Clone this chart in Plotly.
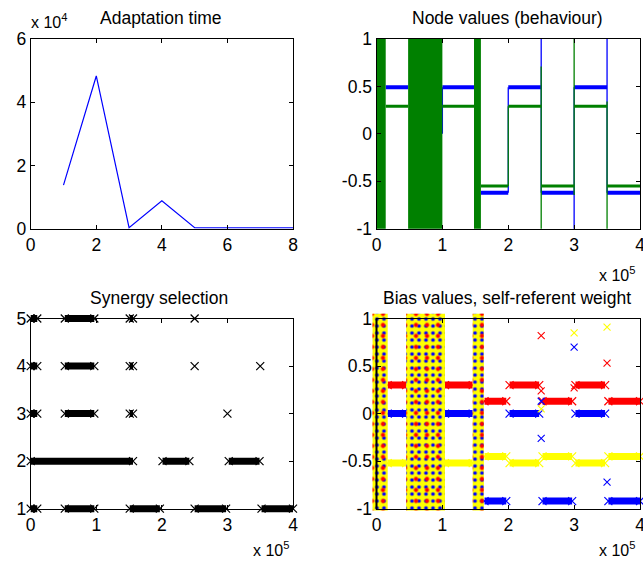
import plotly.graph_objects as go

W, H = 643, 565
FONT = "Liberation Sans, Arial, sans-serif"

# ---------------- data ----------------
# Adaptation time
adapt_x = [1, 2, 3, 4, 5, 6, 7, 8]
adapt_y = [13800, 48300, 300, 8800, 300, 300, 300, 300]

# Node values (behaviour)
node_dense_start = [0, 48000, 148000]
node_dense_end = [14000, 100000, 158500]
node_seg_start = [14000, 100000, 158500, 200000, 250000, 300000, 350000]
node_seg_end = [48000, 148000, 200000, 250000, 300000, 350000, 400000]
node_blue = [0.49, 0.49, -0.62, 0.49, -0.62, 0.49, -0.62]
node_green = [0.29, 0.29, -0.55, 0.29, -0.55, 0.29, -0.55]
node_vert_x = [100000, 200000, 250000, 300000, 350000]
node_blue_vlo = [0.0, -0.62, -0.62, -1.0, -0.62]
node_blue_vhi = [0.49, 0.49, 1.0, 0.49, 1.0]
node_green_vlo = [None, -0.55, -1.0, -0.645, -1.0]
node_green_vhi = [None, 0.29, 0.71, 1.0, 0.34]

# Synergy selection
syn_run_level = [5, 5, 5, 4, 4, 4, 3, 3, 3, 2, 2, 2, 1, 1, 1, 1, 1]
syn_run_start = [0, 52000, 151000, 0, 52000, 151000, 0, 52000, 151000,
                 0, 201000, 302000, 0, 52000, 151000, 250000, 352000]
syn_run_end = [10000, 97000, 156000, 10000, 97000, 156000, 10000, 97000, 156000,
               156000, 242000, 349000, 10000, 97000, 197000, 298000, 400000]
syn_single_x = [250000, 250000, 350000, 300000]
syn_single_y = [5, 4, 4, 3]

# Bias values, self-referent weight
bias_dense_start = [-6000, 45000, 146000]
bias_dense_end = [17000, 104000, 163000]
bias_dense_lo = -1.02
bias_dense_hi = 1.05
bias_seg_start = [17000, 104000, 164000, 202000, 252000, 302000, 352000]
bias_seg_end = [45000, 146000, 197000, 247000, 297000, 347000, 400000]
bias_red = [0.30, 0.30, 0.13, 0.30, 0.13, 0.30, 0.13]
bias_blue = [0.0, 0.0, -0.92, 0.0, -0.92, 0.0, -0.92]
bias_yellow = [-0.52, -0.52, -0.45, -0.52, -0.45, -0.52, -0.45]
bias_pts_red_x = [250000, 350000, 250000, 300000]
bias_pts_red_y = [0.82, 0.53, 0.24, 0.27]
bias_pts_blue_x = [300000, 250000, 250000, 350000]
bias_pts_blue_y = [0.70, 0.13, -0.26, -0.72]
bias_pts_yellow_x = [300000, 350000, 250000]
bias_pts_yellow_y = [0.85, 0.91, 0.05]

# tick labels
tl_xticks = [0, 2, 4, 6, 8]
tl_yticks = [0, 20000, 40000, 60000]
tl_yticktext = ["0", "2", "4", "6"]
e5_ticks = [0, 100000, 200000, 300000, 400000]
e5_ticktext = ["0", "1", "2", "3", "4"]
pm1_ticks = [-1, -0.5, 0, 0.5, 1]
pm1_ticktext = ["-1", "-0.5", "0", "0.5", "1"]
syn_yticks = [1, 2, 3, 4, 5]

BLUE = "rgb(0,0,255)"
GREEN = "rgb(0,128,0)"
RED = "rgb(255,0,0)"
YELLOW = "rgb(255,255,0)"

# ---------------- layout geometry ----------------
boxes = {
    "tl": (30.7, 293.0, 39.0, 228.7),
    "tr": (376.5, 640.0, 39.0, 228.7),
    "bl": (30.7, 293.0, 318.5, 508.7),
    "br": (376.5, 640.0, 318.5, 508.7),
}
ranges = {
    "tl": ([0, 8], [0, 60000]),
    "tr": ([0, 400000], [-1, 1]),
    "bl": ([0, 400000], [1, 5]),
    "br": ([0, 400000], [-1, 1]),
}
ticks = {
    "tl": (tl_xticks, [str(v) for v in tl_xticks], tl_yticks, tl_yticktext),
    "tr": (e5_ticks, e5_ticktext, pm1_ticks, pm1_ticktext),
    "bl": (e5_ticks, e5_ticktext, syn_yticks, [str(v) for v in syn_yticks]),
    "br": (e5_ticks, e5_ticktext, pm1_ticks, pm1_ticktext),
}
panels = ["tl", "tr", "bl", "br"]
PAD = 10

layout = dict(
    template="none",
    width=W, height=H, margin=dict(l=0, r=0, t=0, b=0, pad=0, autoexpand=False),
    paper_bgcolor="white", plot_bgcolor="rgba(0,0,0,0)",
    showlegend=False, font=dict(family=FONT, size=17, color="black"),
)

fig = go.Figure()
axref = {}
for i, p in enumerate(panels):
    L, R, T, B = boxes[p]
    (x0, x1), (y0, y1) = ranges[p]
    pl, pr = min(PAD, L), min(PAD, W - R)
    pt, pb = min(PAD, T), min(PAD, H - B)
    sx = (x1 - x0) / (R - L)
    sy = (y1 - y0) / (B - T)
    di = i + 1
    fi = i + 5
    dxk = "xaxis" if di == 1 else f"xaxis{di}"
    dyk = "yaxis" if di == 1 else f"yaxis{di}"
    layout[dxk] = dict(domain=[(L - pl) / W, (R + pr) / W],
                       range=[x0 - pl * sx, x1 + pr * sx], visible=False,
                       automargin=False,
                       anchor="y" if di == 1 else f"y{di}", fixedrange=True)
    layout[dyk] = dict(domain=[1 - (B + pb) / H, 1 - (T - pt) / H],
                       range=[y0 - pb * sy, y1 + pt * sy], visible=False,
                       automargin=False,
                       anchor="x" if di == 1 else f"x{di}", fixedrange=True)
    xt, xtt, yt, ytt = ticks[p]
    common = dict(showline=True, linecolor="black", linewidth=1, mirror="ticks",
                  ticks="inside", ticklen=4, tickcolor="black", tickwidth=1,
                  showgrid=False, zeroline=False, fixedrange=True, automargin=False,
                  ticklabeloverflow="allow",
                  tickfont=dict(family=FONT, size=17.5, color="black"))
    layout[f"xaxis{fi}"] = dict(domain=[L / W, R / W], range=[x0, x1],
                                tickvals=xt, ticktext=xtt, anchor=f"y{fi}", **common)
    layout[f"yaxis{fi}"] = dict(domain=[1 - B / H, 1 - T / H], range=[y0, y1],
                                tickvals=yt, ticktext=ytt, anchor=f"x{fi}", **common)
    axref[p] = ("x" if di == 1 else f"x{di}", "y" if di == 1 else f"y{di}")
    fig.add_trace(go.Scatter(x=[x0], y=[y0], mode="markers", marker=dict(opacity=0),
                             xaxis=f"x{fi}", yaxis=f"y{fi}", hoverinfo="skip"))


def segs(starts, ends, levels):
    xs, ys = [], []
    for s, e, v in zip(starts, ends, levels):
        if v is None:
            continue
        xs += [s, e, None]
        ys += [v, v, None]
    return xs, ys


def verts(xpos, lo, hi):
    xs, ys = [], []
    for x, a, b in zip(xpos, lo, hi):
        if a is None:
            continue
        xs += [x, x, None]
        ys += [a, b, None]
    return xs, ys


def rects(starts, ends, lo, hi):
    xs, ys = [], []
    for s, e in zip(starts, ends):
        xs += [s, e, e, s, s, None]
        ys += [lo, lo, hi, hi, lo, None]
    return xs, ys


# ---- Adaptation time ----
xa, ya = axref["tl"]
fig.add_trace(go.Scatter(x=adapt_x, y=adapt_y, mode="lines",
                         line=dict(color=BLUE, width=1.2), xaxis=xa, yaxis=ya))

# ---- Node values ----
xa, ya = axref["tr"]
bx, by = segs(node_seg_start, node_seg_end, node_blue)
fig.add_trace(go.Scatter(x=bx, y=by, mode="lines", line=dict(color=BLUE, width=4),
                         xaxis=xa, yaxis=ya))
vx, vy = verts(node_vert_x, node_blue_vlo, node_blue_vhi)
fig.add_trace(go.Scatter(x=vx, y=vy, mode="lines", line=dict(color=BLUE, width=1.3),
                         xaxis=xa, yaxis=ya))
gx, gy = segs(node_seg_start, node_seg_end, node_green)
fig.add_trace(go.Scatter(x=gx, y=gy, mode="lines", line=dict(color=GREEN, width=3),
                         xaxis=xa, yaxis=ya))
vx, vy = verts(node_vert_x, node_green_vlo, node_green_vhi)
fig.add_trace(go.Scatter(x=vx, y=vy, mode="lines", line=dict(color=GREEN, width=1.3),
                         xaxis=xa, yaxis=ya))
rx, ry = rects(node_dense_start, node_dense_end, -1, 1)
fig.add_trace(go.Scatter(x=rx, y=ry, mode="lines", fill="toself", fillcolor=GREEN,
                         line=dict(width=0, color=GREEN), xaxis=xa, yaxis=ya))

# ---- Synergy selection ----
xa, ya = axref["bl"]
sx_, sy_ = segs(syn_run_start, syn_run_end, syn_run_level)
fig.add_trace(go.Scatter(x=sx_, y=sy_, mode="lines", line=dict(color="black", width=7),
                         xaxis=xa, yaxis=ya))
ex = syn_run_start + syn_run_end + syn_single_x
ey = syn_run_level + syn_run_level + syn_single_y
xmark = dict(symbol="x-thin", size=8, color="black", line=dict(width=1.2, color="black"))
fig.add_trace(go.Scatter(x=ex, y=ey, mode="markers", marker=xmark, xaxis=xa, yaxis=ya))

# ---- Bias values ----
xa, ya = axref["br"]
for lev, col in ((bias_red, RED), (bias_blue, BLUE), (bias_yellow, YELLOW)):
    lx, ly = segs(bias_seg_start, bias_seg_end, lev)
    fig.add_trace(go.Scatter(x=lx, y=ly, mode="lines", line=dict(color=col, width=7),
                             xaxis=xa, yaxis=ya))
    fig.add_trace(go.Scatter(x=bias_seg_start + bias_seg_end, y=lev + lev, mode="markers",
                             marker=dict(symbol="x-thin", size=8, color=col,
                                         line=dict(width=1.2, color=col)),
                             xaxis=xa, yaxis=ya))
rx, ry = rects(bias_dense_start, bias_dense_end, bias_dense_lo, bias_dense_hi)
fig.add_trace(go.Scatter(x=rx, y=ry, mode="lines", fill="toself", fillcolor=YELLOW,
                         line=dict(width=0, color=YELLOW),
                         fillpattern=dict(shape=".", fgcolor=BLUE, bgcolor=YELLOW,
                                          size=7, solidity=0.22),
                         xaxis=xa, yaxis=ya))
fig.add_trace(go.Scatter(x=rx, y=ry, mode="lines", fill="toself",
                         fillcolor="rgba(0,0,0,0)", line=dict(width=0, color="rgba(0,0,0,0)"),
                         fillpattern=dict(shape=".", fgcolor=RED, bgcolor="rgba(0,0,0,0)",
                                          size=11, solidity=0.12),
                         xaxis=xa, yaxis=ya))
fig.add_trace(go.Scatter(x=[0, 0], y=[-1, 1], mode="lines",
                         line=dict(color="black", width=2), xaxis=xa, yaxis=ya))
for px_, py_, col in ((bias_pts_red_x, bias_pts_red_y, RED),
                      (bias_pts_blue_x, bias_pts_blue_y, BLUE),
                      (bias_pts_yellow_x, bias_pts_yellow_y, YELLOW)):
    fig.add_trace(go.Scatter(x=px_, y=py_, mode="markers",
                             marker=dict(symbol="x-thin", size=7, color=col,
                                         line=dict(width=1.1, color=col)),
                             xaxis=xa, yaxis=ya))

# ---------------- annotations ----------------
def ann(text, xpx, ypx, xanchor="center", yanchor="middle", size=17.5):
    return dict(text=text, x=xpx / W, y=1 - ypx / H, xref="paper", yref="paper",
                xanchor=xanchor, yanchor=yanchor, showarrow=False,
                font=dict(family=FONT, size=size, color="black"))


annotations = [
    ann("Adaptation time", 161, 18),
    ann("Node values (behaviour)", 507, 18),
    ann("Synergy selection", 159, 298),
    ann("Bias values, self-referent weight", 507, 298),
    ann("x 10<sup>4</sup>", 29, 33, xanchor="left", yanchor="bottom", size=16),
    ann("x 10<sup>5</sup>", 637, 286, xanchor="right", yanchor="bottom", size=16),
    ann("x 10<sup>5</sup>", 291, 561, xanchor="right", yanchor="bottom", size=16),
    ann("x 10<sup>5</sup>", 637, 561, xanchor="right", yanchor="bottom", size=16),
]
layout["annotations"] = annotations

for tr in fig.data:
    tr.showlegend = False
    tr.hoverinfo = "skip"

fig.update_layout(**layout)
fig.write_html("out.html")
